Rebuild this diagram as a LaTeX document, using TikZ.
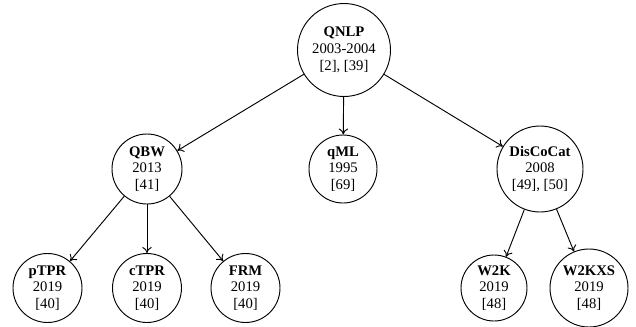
\documentclass[tikz,border=0pt]{standalone}
\usepackage{fontspec}
\setmainfont{Liberation Serif}
\usetikzlibrary{arrows.meta}
\begin{document}
\begin{tikzpicture}[x=0.75pt, y=-0.75pt,
  topic/.style={circle, draw, line width=0.7pt, inner sep=0pt, align=center,
    font=\fontsize{11}{12.6}\selectfont},
  link/.style={-{To[length=4.5pt,width=7pt]}, line width=0.7pt}]
\useasboundingbox (0,0) rectangle (636,326);
% root
\node[topic, minimum size=69.75pt] (qnlp) at (344,50) {\textbf{QNLP}\\2003-2004\\{}[2], [39]};
% second level
\node[topic, minimum size=52.5pt] (qbw) at (147,169) {\textbf{QBW}\\2013\\{}[41]};
\node[topic, minimum size=51pt] (qml) at (343,169) {\textbf{qML}\\1995\\{}[69]};
\node[topic, minimum size=64.5pt] (disco) at (540,169) {\textbf{DisCoCat}\\2008\\{}[49], [50]};
% third level
\node[topic, minimum size=51.75pt] (ptpr) at (47.5,288) {\textbf{pTPR}\\2019\\{}[40]};
\node[topic, minimum size=51.75pt] (ctpr) at (147,288) {\textbf{cTPR}\\2019\\{}[40]};
\node[topic, minimum size=51.75pt] (frm) at (245.5,288) {\textbf{FRM}\\2019\\{}[40]};
\node[topic, minimum size=49.5pt] (w2k) at (494,288) {\textbf{W2K}\\2019\\{}[48]};
\node[topic, minimum size=58.5pt] (w2kxs) at (589,288) {\textbf{W2KXS}\\2019\\{}[48]};
% edges
\draw[link] (qnlp) -- (qbw);
\draw[link] (qnlp) -- (qml);
\draw[link] (qnlp) -- (disco);
\draw[link] (qbw) -- (ptpr);
\draw[link] (qbw) -- (ctpr);
\draw[link] (qbw) -- (frm);
\draw[link] (disco) -- (w2k);
\draw[link] (disco) -- (w2kxs);
\end{tikzpicture}
\end{document}
